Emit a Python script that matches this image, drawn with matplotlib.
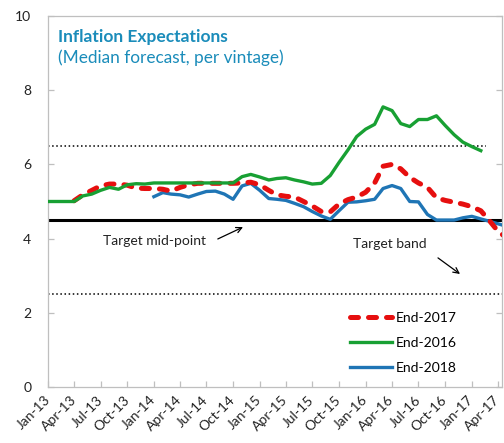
import matplotlib
matplotlib.use("Agg")
import matplotlib.pyplot as plt
import matplotlib.dates as mdates
import pandas as pd

plt.rcParams['font.family'] = ['Lato', 'DejaVu Sans']

# ---- data ----
green_start = "2013-01"
green_2016 = [5.0, 5.0, 5.0, 5.0, 5.15, 5.2, 5.3, 5.38, 5.33, 5.45, 5.48, 5.47,
              5.5, 5.5, 5.5, 5.5, 5.5, 5.5, 5.5, 5.5, 5.5, 5.5, 5.67, 5.73,
              5.66, 5.58, 5.62, 5.64, 5.58, 5.53, 5.47, 5.49, 5.7, 6.05, 6.39, 6.75,
              6.95, 7.08, 7.55, 7.45, 7.1, 7.02, 7.21, 7.21, 7.31, 7.05, 6.8, 6.6,
              6.48, 6.37]

red_start = "2013-04"
red_2017 = [5.02, 5.18, 5.3, 5.42, 5.47, 5.47, 5.44, 5.36, 5.35,
            5.35, 5.33, 5.28, 5.38, 5.45, 5.49, 5.49, 5.49, 5.49, 5.49, 5.5, 5.52,
            5.45, 5.3, 5.18, 5.14, 5.12, 5.0, 4.88, 4.73, 4.72, 4.93, 5.05, 5.12,
            5.25, 5.5, 5.95, 6.0, 5.88, 5.65, 5.5, 5.38, 5.1, 5.03, 4.98, 4.93,
            4.86, 4.75, 4.5, 4.2, 4.02]

blue_start = "2014-01"
blue_2018 = [5.13, 5.24, 5.2, 5.18, 5.12, 5.2, 5.27, 5.28, 5.2, 5.06, 5.42, 5.49,
             5.3, 5.08, 5.06, 5.03, 4.95, 4.86, 4.73, 4.61, 4.52, 4.75, 4.98, 4.99,
             5.02, 5.06, 5.35, 5.43, 5.35, 5.0, 4.99, 4.65, 4.5, 4.5, 4.5, 4.56,
             4.6, 4.53, 4.47, 4.4, 4.33]

target_mid = 4.5
band_upper = 6.5
band_lower = 2.5
y_ticks = [0, 2, 4, 6, 8, 10]
labels = ["End-2017", "End-2016", "End-2018"]

d_green = pd.date_range(green_start, periods=len(green_2016), freq="MS")
d_red = pd.date_range(red_start, periods=len(red_2017), freq="MS")
d_blue = pd.date_range(blue_start, periods=len(blue_2018), freq="MS")

W, H = 504, 443
fig = plt.figure(figsize=(W / 100, H / 100), dpi=100)
L, R, T, B = 48, 502, 16, 387
ax = fig.add_axes([L / W, (H - B) / H, (R - L) / W, (B - T) / H])

RED = "#e60f0f"
GREEN = "#18a033"
BLUE = "#1f75b5"
GRID = "#bfbfbf"

# reference lines
ax.axhline(target_mid, color="black", lw=2.2, zorder=2)
ax.plot([pd.Timestamp("2013-01-01"), pd.Timestamp("2017-02-20")], [band_upper, band_upper],
        color="black", lw=1.1, ls=(0, (1, 1.7)), zorder=2)
ax.axhline(band_lower, color="black", lw=1.1, ls=(0, (1, 1.7)), zorder=2)

ax.plot(d_blue, blue_2018, color=BLUE, lw=2.4, zorder=3, solid_joinstyle="round", label=labels[2])
lr, = ax.plot(d_red, red_2017, color=RED, lw=3.6, zorder=4, label=labels[0],
              dash_capstyle="round", solid_joinstyle="round")
lr.set_dashes((1.6, 2.0))
ax.plot(d_green, green_2016, color=GREEN, lw=2.4, zorder=5, solid_joinstyle="round", label=labels[1])

ax.set_ylim(0, 10)
ax.set_xlim(pd.Timestamp("2013-01-01"), pd.Timestamp("2017-04-15"))
ax.set_yticks(y_ticks)
ax.xaxis.set_major_locator(mdates.MonthLocator(bymonth=[1, 4, 7, 10]))
ax.xaxis.set_major_formatter(mdates.DateFormatter("%b-%y"))

for s in ax.spines.values():
    s.set_color(GRID)
    s.set_linewidth(0.9)

ax.tick_params(axis="both", direction="in", color=GRID, length=4, width=0.9, labelsize=10,
               labelcolor="#222222")
ax.tick_params(axis="y", pad=12, right=True)
ax.tick_params(axis="x", pad=8)
for lab in ax.get_xticklabels():
    lab.set_rotation(45)
    lab.set_ha("right")
    lab.set_va("center")
    lab.set_rotation_mode("anchor")

# titles
ax.text(0.022, 0.930, "Inflation Expectations", transform=ax.transAxes, fontsize=12.5,
        fontweight="bold", color="#1a8cba", va="baseline", ha="left")
ax.text(0.022, 0.873, "(Median forecast, per vintage)", transform=ax.transAxes, fontsize=12.4,
        color="#1a8cba", va="baseline", ha="left")

# annotations
ax.text(0.121, 0.3935, "Target mid-point", transform=ax.transAxes, fontsize=10,
        color="#222222", va="center", ha="left")
ax.annotate("", xy=(0.4295, 0.431), xytext=(0.374, 0.399), xycoords="axes fraction",
            textcoords="axes fraction",
            arrowprops=dict(arrowstyle="->", color="black", lw=0.9, shrinkA=0, shrinkB=0))
ax.text(0.672, 0.385, "Target band", transform=ax.transAxes, fontsize=10,
        color="#222222", va="center", ha="left")
ax.annotate("", xy=(0.9075, 0.3046), xytext=(0.859, 0.348), xycoords="axes fraction",
            textcoords="axes fraction",
            arrowprops=dict(arrowstyle="->", color="black", lw=0.9, shrinkA=0, shrinkB=0))

handles, labs = ax.get_legend_handles_labels()
order = [labs.index(l) for l in labels]
leg = ax.legend([handles[i] for i in order], [labs[i] for i in order],
                loc="center left", bbox_to_anchor=(0.665, 0.1186), frameon=False,
                fontsize=10, handlelength=3.0, handletextpad=0.3, labelspacing=0.95,
                borderpad=0, borderaxespad=0)

fig.savefig("out.png", dpi=100)
